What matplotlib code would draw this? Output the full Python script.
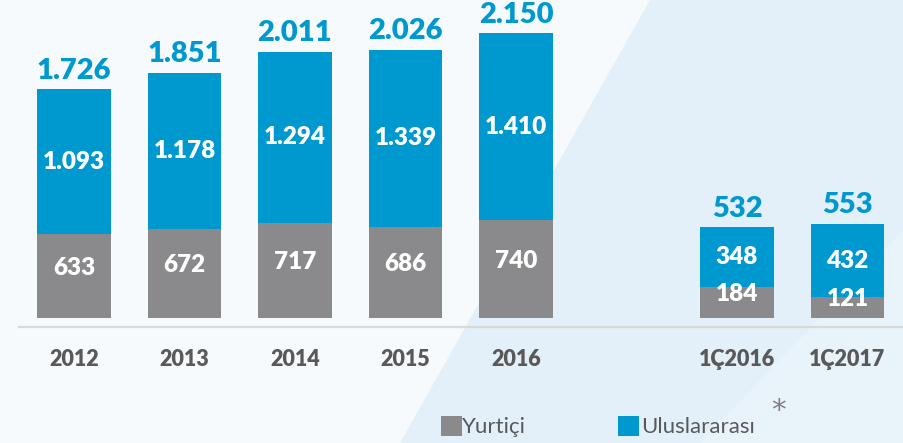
import matplotlib
matplotlib.use("Agg")
import matplotlib.pyplot as plt
from matplotlib.patches import Polygon, Rectangle
from matplotlib.lines import Line2D

plt.rcParams['font.family'] = ['Lato', 'DejaVu Sans']

# Data
years = ["2012", "2013", "2014", "2015", "2016"]
yurtici_years = [633, 672, 717, 686, 740]
ulus_years = [1093, 1178, 1294, 1339, 1410]
total_years = [1726, 1851, 2011, 2026, 2150]
total_year_labels = ["1.726", "1.851", "2.011", "2.026", "2.150"]
ulus_year_labels = ["1.093", "1.178", "1.294", "1.339", "1.410"]

quarters = ["1Ç2016", "1Ç2017"]
yurtici_q = [184, 121]
ulus_q = [348, 432]
total_q = [532, 553]

legend_labels = ["Yurtiçi", "Uluslararası"]

BLUE = "#0099cf"
GREY = "#8a8a8c"
DARK = "#595959"
WEIGHT = "heavy"

W, H = 904, 443
fig = plt.figure(figsize=(W / 100, H / 100), dpi=100)
fig.patch.set_facecolor("#f6fafd")

def P(x, y):
    return (x / W, 1 - y / H)

# background shapes
fig.patches.append(Polygon([P(650, 0), P(904, 0), P(904, 443), P(400, 443)],
                           closed=True, transform=fig.transFigure,
                           facecolor="#e3f0f9", edgecolor="none", zorder=0))
fig.patches.append(Polygon([P(904, 230), P(904, 443), P(700, 443)],
                           closed=True, transform=fig.transFigure,
                           facecolor="#e8f3fa", edgecolor="none", zorder=0))

ax_bottom = (H - 318) / H
ax = fig.add_axes([0, ax_bottom, 1, 1 - ax_bottom])
ax.set_zorder(2)
ax.set_facecolor("none")
xmin, xmax = -74 / 110.5, (W - 74) / 110.5
ax.set_xlim(xmin, xmax)
ax.set_ylim(0, 2400)
for s in ax.spines.values():
    s.set_visible(False)
ax.set_yticks([])

axq = ax.twinx()
axq.set_zorder(3)
axq.set_facecolor("none")
axq.set_ylim(0, 1865)
for s in axq.spines.values():
    s.set_visible(False)
axq.set_yticks([])

xy = list(range(len(years)))
xq = [len(years) + 1 + i for i in range(len(quarters))]
bw = 0.665

ax.bar(xy, yurtici_years, width=bw, color=GREY, zorder=2)
ax.bar(xy, ulus_years, bottom=yurtici_years, width=bw, color=BLUE, zorder=2)
axq.bar(xq, yurtici_q, width=bw, color=GREY, zorder=2)
axq.bar(xq, ulus_q, bottom=yurtici_q, width=bw, color=BLUE, zorder=2)

def labels(a, xs, grey, blue, total, blue_lbl, tot_lbl):
    for x, g, b, t, bl, tl in zip(xs, grey, blue, total, blue_lbl, tot_lbl):
        a.annotate(tl, (x, t), xytext=(0, 4), textcoords="offset points",
                   ha="center", va="bottom", color=BLUE, fontsize=21,
                   fontweight=WEIGHT, zorder=5)
        a.annotate(bl, (x, g + b / 2), xytext=(0, 0), textcoords="offset points",
                   ha="center", va="center", color="white", fontsize=17.5,
                   fontweight=WEIGHT, zorder=5)
        a.annotate(str(g), (x, g / 2), xytext=(0, 6), textcoords="offset points",
                   ha="center", va="center", color="white", fontsize=17.5,
                   fontweight=WEIGHT, zorder=5)

labels(ax, xy, yurtici_years, ulus_years, total_years, ulus_year_labels, total_year_labels)
labels(axq, xq, yurtici_q, ulus_q, total_q, [str(v) for v in ulus_q], [str(v) for v in total_q])

ax.set_xticks(xy + xq)
ax.set_xticklabels(years + quarters, fontsize=15.5, fontweight=WEIGHT, color=DARK)
ax.tick_params(axis="x", length=0, pad=22)

# baseline
fig.add_artist(Line2D([19 / W, 1], [1 - 327 / H, 1 - 327 / H], transform=fig.transFigure,
                      color="#d9d9d9", lw=1.6, zorder=1))

# legend
fig.patches.append(Rectangle(P(441, 436), 21 / W, 20 / H, transform=fig.transFigure,
                             facecolor=GREY, edgecolor="none", zorder=3))
fig.text(*P(462, 427), legend_labels[0], ha="left", va="center", fontsize=16, color=DARK)
fig.patches.append(Rectangle(P(618, 436), 21 / W, 20 / H, transform=fig.transFigure,
                             facecolor=BLUE, edgecolor="none", zorder=3))
fig.text(*P(641, 427), legend_labels[1], ha="left", va="center", fontsize=16, color=DARK)
fig.text(*P(778, 411), "*", ha="center", va="center", fontsize=21, color="#7f7f7f",
         family=["DejaVu Sans"])

fig.savefig("out.png", dpi=100, facecolor=fig.get_facecolor())
